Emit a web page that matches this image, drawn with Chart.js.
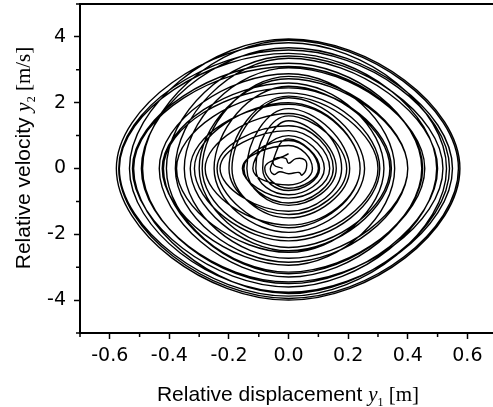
<!DOCTYPE html>
<html>
<head>
<meta charset="utf-8">
<script src="https://cdn.jsdelivr.net/npm/chart.js@4/dist/chart.umd.min.js"></script>
<style>
html, body { margin: 0; padding: 0; background: #fff; overflow: hidden; }
</style>
</head>
<body>
<canvas id="phaseChart" width="493" height="407"></canvas>
<script>
// turning points of the trajectory, one entry per revolution
// out, back in, out again, back in - so the trace starts and stops near the middle
var loopTop    = [0.9, 1.45, 1.82, 2.15, 2.5, 2.73, 3.06, 3.42, 3.67, 3.94,
                  3.82, 3.5, 3.2, 2.88, 2.6, 2.3, 2.0, 1.67, 1.15, 0.7,
                  1.0, 1.6, 2.2, 2.8, 3.35, 3.9,
                  3.6, 3.1, 2.45, 1.95, 1.3, 0.85];
var loopRight  = [0.104, 0.16, 0.205, 0.255, 0.34, 0.40, 0.457, 0.518, 0.55, 0.575,
                  0.53, 0.497, 0.447, 0.356, 0.32, 0.306, 0.24, 0.178, 0.138, 0.08,
                  0.12, 0.195, 0.30, 0.40, 0.50, 0.57,
                  0.54, 0.45, 0.345, 0.24, 0.15, 0.1];
var loopBottom = [-0.67, -1.12, -1.5, -1.94, -2.4, -2.73, -3.15, -3.45, -3.76, -4.0,
                  -3.88, -3.6, -3.3, -2.94, -2.55, -2.2, -1.72, -1.3, -0.9, -0.5,
                  -0.8, -1.4, -2.1, -2.85, -3.5, -3.95,
                  -3.8, -3.2, -2.5, -1.8, -1.05, -0.6];
var loopLeft   = [-0.087, -0.14, -0.19, -0.25, -0.30, -0.35, -0.41, -0.494, -0.534, -0.578,
                  -0.568, -0.524, -0.434, -0.424, -0.376, -0.316, -0.28, -0.23, -0.155, -0.12,
                  -0.11, -0.2, -0.29, -0.38, -0.49, -0.57,
                  -0.52, -0.42, -0.33, -0.24, -0.15, -0.08];

// small wiggle at the centre, and where the trace stops
var coreX = [-0.02, -0.05, -0.045, -0.01, 0.0, 0.025, 0.055, 0.06, 0.045, 0.035, 0.0, -0.03, -0.05, -0.06];
var coreY = [0.0, 0.12, 0.3, 0.31, 0.16, 0.3, 0.26, 0.02, -0.2, -0.12, -0.16, -0.1, -0.18, 0.05];
var endX = [0.0];
var endY = [0.45];

var xMajor = [-0.6, -0.4, -0.2, 0.0, 0.2, 0.4, 0.6];
var xMinor = [-0.7, -0.5, -0.3, -0.1, 0.1, 0.3, 0.5];
var yMajor = [-4, -2, 0, 2, 4];
var yMinor = [-5, -3, -1, 1, 3, 5];

var pts = [];
for (var i = 0; i < coreX.length; i++) {
    pts.push({x: coreX[i], y: coreY[i]});
}
for (var j = 0; j < loopTop.length; j++) {
    pts.push({x: 0, y: loopTop[j]});
    pts.push({x: loopRight[j], y: 0});
    pts.push({x: 0, y: loopBottom[j]});
    pts.push({x: loopLeft[j], y: 0});
}
for (var k = 0; k < endX.length; k++) {
    pts.push({x: endX[k], y: endY[k]});
}

function drawTitle(ctx, parts) {
    var w = 0;
    parts.forEach(p => { ctx.font = p.f; w += ctx.measureText(p.t).width; });
    var x = -w / 2;
    parts.forEach(p => {
        ctx.font = p.f;
        ctx.fillText(p.t, x, p.dy || 0);
        x += ctx.measureText(p.t).width;
    });
}

var extras = {
    id: "extras",
    afterDraw: function(chart) {
        var ctx = chart.ctx;
        var a = chart.chartArea;
        var xs = chart.scales.x, ys = chart.scales.y;
        ctx.save();
        ctx.strokeStyle = "#000";
        // top frame line
        ctx.lineWidth = 2;
        ctx.beginPath();
        ctx.moveTo(a.left, a.top);
        ctx.lineTo(a.right, a.top);
        ctx.stroke();
        // minor ticks
        ctx.lineWidth = 1.5;
        ctx.beginPath();
        xMinor.forEach(v => {
            var px = xs.getPixelForValue(v);
            ctx.moveTo(px, a.bottom);
            ctx.lineTo(px, a.bottom + 4);
        });
        yMinor.forEach(v => {
            var py = ys.getPixelForValue(v);
            ctx.moveTo(a.left, py);
            ctx.lineTo(a.left - 4, py);
        });
        ctx.stroke();

        ctx.fillStyle = "#000";
        ctx.textBaseline = "alphabetic";
        ctx.textAlign = "left";
        // x title
        ctx.save();
        ctx.translate(288, 401);
        drawTitle(ctx, [
            {t: "Relative displacement ", f: '21px "Liberation Sans"'},
            {t: "y", f: 'italic 21px "Liberation Serif"'},
            {t: "1", f: '12px "Liberation Serif"', dy: 5},
            {t: " [m]", f: '21px "Liberation Serif"'}
        ]);
        ctx.restore();
        // y title
        ctx.save();
        ctx.translate(30, 158);
        ctx.rotate(-Math.PI / 2);
        drawTitle(ctx, [
            {t: "Relative velocity ", f: '21px "Liberation Sans"'},
            {t: "y", f: 'italic 21px "Liberation Serif"'},
            {t: "2", f: '12px "Liberation Serif"', dy: 5},
            {t: " [m/s]", f: '21px "Liberation Serif"'}
        ]);
        ctx.restore();
        ctx.restore();
    }
};

new Chart("phaseChart", {
    type: "line",
    data: {
        datasets: [{
            data: pts,
            borderColor: "#000",
            borderWidth: 1.4,
            pointRadius: 0,
            tension: 0.48,
            fill: false
        }]
    },
    options: {
        responsive: false,
        animation: false,
        devicePixelRatio: 1,
        layout: {padding: {top: 4, right: 0, left: 0, bottom: 0}},
        plugins: {legend: {display: false}, tooltip: {enabled: false}},
        scales: {
            x: {
                type: "linear",
                min: -0.7,
                max: 0.686,
                afterBuildTicks: s => { s.ticks = xMajor.map(v => ({value: v})); },
                afterFit: s => { s.height = 74; s.paddingLeft = 0; s.paddingRight = 0; },
                border: {display: true, color: "#000", width: 2},
                grid: {drawOnChartArea: false, drawTicks: true, tickLength: 6, tickWidth: 1.5, tickColor: "#000"},
                ticks: {
                    color: "#000",
                    padding: 6,
                    maxRotation: 0,
                    font: {family: "DejaVu Sans", size: 19},
                    callback: v => v.toFixed(1)
                }
            },
            y: {
                type: "linear",
                min: -5,
                max: 5,
                afterBuildTicks: s => { s.ticks = yMajor.map(v => ({value: v})); },
                afterFit: s => { s.width = 80; s.paddingTop = 0; s.paddingBottom = 0; },
                border: {display: true, color: "#000", width: 2},
                grid: {drawOnChartArea: false, drawTicks: true, tickLength: 6, tickWidth: 1.5, tickColor: "#000"},
                ticks: {
                    color: "#000",
                    padding: 8,
                    font: {family: "DejaVu Sans", size: 19},
                    callback: v => String(v)
                }
            }
        }
    },
    plugins: [extras]
});
</script>
</body>
</html>
